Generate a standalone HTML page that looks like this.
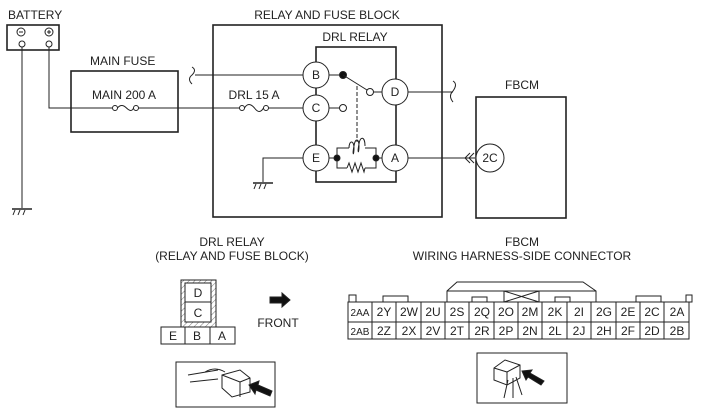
<!DOCTYPE html>
<html><head><meta charset="utf-8"><style>
body{margin:0;background:#fff}
svg{display:block}
text{font-family:"Liberation Sans",sans-serif;font-size:12px;fill:#222}
</style></head><body>
<svg width="704" height="417" viewBox="0 0 704 417" xmlns="http://www.w3.org/2000/svg">
<defs>
<pattern id="h" width="4" height="4" patternUnits="userSpaceOnUse" patternTransform="rotate(45)"><line x1="0" y1="0" x2="0" y2="4" stroke="#555" stroke-width="0.8"/></pattern>
</defs>
<g stroke="#222" fill="none" stroke-width="1">
<rect x="7" y="25" width="52" height="25" stroke-width="1.6"/>
<circle cx="21" cy="32" r="4"/><line x1="19" y1="32" x2="23" y2="32"/>
<circle cx="49" cy="32" r="4"/><line x1="47" y1="32" x2="51" y2="32"/><line x1="49" y1="30" x2="49" y2="34"/>
<circle cx="22" cy="44" r="3"/><circle cx="49" cy="44" r="3"/>
<line x1="22" y1="47" x2="22" y2="208"/>
<line x1="12" y1="209" x2="32" y2="209" stroke-width="1.6"/>
<line x1="15" y1="210" x2="13" y2="215"/><line x1="20" y1="210" x2="18" y2="215"/><line x1="25" y1="210" x2="23" y2="215"/>
<polyline points="49,47 49,108 112,108"/>
<rect x="71" y="71" width="107" height="61" stroke-width="1.6"/>
<circle cx="115" cy="108" r="2.5"/><circle cx="136" cy="108" r="2.5"/>
<path d="M117.5,108 q4,-5 9,0 q5,5 7,0"/>
<line x1="138.5" y1="108" x2="240" y2="108"/>
<circle cx="242" cy="108" r="2.5"/><circle cx="266" cy="108" r="2.5"/>
<path d="M244.5,108 q4,-7 10,0 q5,7 9,0"/>
<line x1="268.5" y1="108" x2="303" y2="108"/>
<rect x="213" y="25" width="229" height="192" stroke-width="1.6"/>
<rect x="316" y="47" width="80" height="135" stroke-width="1.6"/>
<line x1="195" y1="75" x2="303" y2="75"/>
<path d="M192,67 q5,3 0,8 q-5,4 0,9"/>
<circle cx="316" cy="75" r="13" fill="#fff"/>
<circle cx="316" cy="108" r="13" fill="#fff"/>
<circle cx="316" cy="158" r="13" fill="#fff"/>
<circle cx="395" cy="92" r="13" fill="#fff"/>
<circle cx="395" cy="158" r="13" fill="#fff"/>
<line x1="329" y1="75" x2="343" y2="75"/>
<circle cx="343" cy="75" r="3.5" fill="#111"/>
<line x1="343" y1="75" x2="367" y2="90"/>
<circle cx="370" cy="92" r="3.5" fill="#fff"/>
<line x1="373.5" y1="92" x2="382" y2="92"/>
<line x1="329" y1="108" x2="340" y2="108"/>
<circle cx="343" cy="108" r="3.5" fill="#fff"/>
<line x1="357" y1="86" x2="357" y2="142" stroke-dasharray="4,2"/>
<line x1="329" y1="158" x2="337" y2="158"/><line x1="376" y1="158" x2="382" y2="158"/>
<polyline points="337,158 337,148 349,148"/><polyline points="365,148 376,148 376,168 365,168"/><polyline points="337,158 337,168 347,168"/>
<path d="M349,148 c0,-8 5,-8 5,0 c0,8 -2,8 0,-2 c1,-8 5,-8 5,0 c0,8 -2,8 0,-2 c1,-8 6,-8 6,2"/>
<polyline points="347,168 349,163 352,172 355,163 358,172 361,163 364,172 365,168"/>
<circle cx="337" cy="158" r="3" fill="#111"/><circle cx="376" cy="158" r="3" fill="#111"/>
<polyline points="303,158 263,158 263,182"/>
<line x1="253" y1="183" x2="273" y2="183" stroke-width="1.6"/>
<line x1="256" y1="184" x2="254" y2="189"/><line x1="261" y1="184" x2="259" y2="189"/><line x1="266" y1="184" x2="264" y2="189"/>
<line x1="408" y1="92" x2="453" y2="92"/>
<path d="M453,81 q5,3 0,10 q-5,5 0,11"/>
<line x1="408" y1="158" x2="475" y2="158"/>
<polyline points="470,153 465,158 470,163"/><polyline points="474,153 469,158 474,163"/>
<rect x="476" y="97" width="90" height="121" stroke-width="1.6"/>
<circle cx="490" cy="158" r="14" fill="#fff"/>
<rect x="181" y="280" width="35" height="47" fill="url(#h)"/>
<rect x="185" y="283" width="26" height="19" fill="#fff"/>
<rect x="185" y="302" width="26" height="20" fill="#fff"/>
<rect x="161" y="327" width="74" height="17" fill="#fff"/>
<line x1="185" y1="327" x2="185" y2="344"/><line x1="210" y1="327" x2="210" y2="344"/>
<polygon points="270,297 282,297 282,293 290,300 282,307 282,303 270,303" fill="#111"/>
<rect x="176" y="362" width="99" height="45"/>
<polygon points="447,302 447,291 457,282 583,282 596,291 596,302"/>
<line x1="447" y1="291" x2="596" y2="291"/>
<rect x="472" y="297" width="15" height="5"/><rect x="555" y="297" width="15" height="5"/>
<rect x="504" y="291" width="35" height="11"/><line x1="504" y1="291" x2="539" y2="302"/><line x1="504" y1="302" x2="539" y2="291"/>
<rect x="349" y="295" width="7" height="7"/><rect x="383" y="296" width="25" height="6"/>
<rect x="636" y="296" width="25" height="6"/><rect x="686" y="295" width="6" height="7"/>
<rect x="348" y="302" width="341" height="37"/>
<line x1="348" y1="322" x2="689" y2="322"/>
<rect x="477" y="353" width="90" height="50"/>
</g>
<g stroke="#222" fill="none">
<path d="M188,375 l30,-5 M190,382 l28,-3 M205,372 q10,-6 20,0"/>
<polygon points="222,375 240,370 250,378 250,392 232,397 222,388" fill="#fff"/>
<line x1="222" y1="375" x2="240" y2="382"/><line x1="240" y1="382" x2="250" y2="378"/><line x1="240" y1="382" x2="240" y2="397"/>
<polygon points="249,385 259,381 258,385 272,391 270,396 256,390 255,394" fill="#111"/>
<polygon points="494,368 505,360 520,365 520,378 507,385 494,380" fill="#fff"/>
<line x1="494" y1="368" x2="507" y2="372"/><line x1="507" y1="372" x2="520" y2="365"/><line x1="507" y1="372" x2="507" y2="385"/>
<path d="M508,380 l-4,18 M513,378 l0,20 M516,377 l6,18"/>
<polygon points="522,371 532,370 530,373 544,381 541,385 528,377 526,380" fill="#111"/>
</g>
<text x="8" y="19">BATTERY</text>
<text x="90" y="65">MAIN FUSE</text>
<text x="124" y="99" text-anchor="middle">MAIN 200 A</text>
<text x="254" y="99" text-anchor="middle">DRL 15 A</text>
<text x="327" y="19" text-anchor="middle">RELAY AND FUSE BLOCK</text>
<text x="355" y="41" text-anchor="middle">DRL RELAY</text>
<text x="316" y="79" text-anchor="middle">B</text>
<text x="316" y="112" text-anchor="middle">C</text>
<text x="316" y="162" text-anchor="middle">E</text>
<text x="395" y="96" text-anchor="middle">D</text>
<text x="395" y="162" text-anchor="middle">A</text>
<text x="490" y="162" text-anchor="middle">2C</text>
<text x="522" y="89" text-anchor="middle">FBCM</text>
<text x="232" y="246" text-anchor="middle">DRL RELAY</text>
<text x="232" y="260" text-anchor="middle">(RELAY AND FUSE BLOCK)</text>
<text x="522" y="246" text-anchor="middle">FBCM</text>
<text x="522" y="260" text-anchor="middle">WIRING HARNESS-SIDE CONNECTOR</text>
<text x="198" y="297" text-anchor="middle">D</text>
<text x="198" y="317" text-anchor="middle">C</text>
<text x="173" y="340" text-anchor="middle">E</text>
<text x="197" y="340" text-anchor="middle">B</text>
<text x="222" y="340" text-anchor="middle">A</text>
<text x="278" y="327" text-anchor="middle">FRONT</text>
<g text-anchor="middle" style="font-size:11px">
<text x="360" y="316" style="font-size:10px">2AA</text><text x="384" y="316">2Y</text><text x="409" y="316">2W</text><text x="433" y="316">2U</text><text x="457" y="316">2S</text><text x="482" y="316">2Q</text><text x="506" y="316">2O</text><text x="530" y="316">2M</text><text x="555" y="316">2K</text><text x="579" y="316">2I</text><text x="604" y="316">2G</text><text x="628" y="316">2E</text><text x="652" y="316">2C</text><text x="677" y="316">2A</text>
<text x="360" y="335" style="font-size:10px">2AB</text><text x="384" y="335">2Z</text><text x="409" y="335">2X</text><text x="433" y="335">2V</text><text x="457" y="335">2T</text><text x="482" y="335">2R</text><text x="506" y="335">2P</text><text x="530" y="335">2N</text><text x="555" y="335">2L</text><text x="579" y="335">2J</text><text x="604" y="335">2H</text><text x="628" y="335">2F</text><text x="652" y="335">2D</text><text x="677" y="335">2B</text>
</g>
<g stroke="#222">
<line x1="372" y1="302" x2="372" y2="339"/><line x1="396" y1="302" x2="396" y2="339"/><line x1="421" y1="302" x2="421" y2="339"/><line x1="445" y1="302" x2="445" y2="339"/><line x1="469" y1="302" x2="469" y2="339"/><line x1="494" y1="302" x2="494" y2="339"/><line x1="518" y1="302" x2="518" y2="339"/><line x1="542" y1="302" x2="542" y2="339"/><line x1="567" y1="302" x2="567" y2="339"/><line x1="591" y1="302" x2="591" y2="339"/><line x1="616" y1="302" x2="616" y2="339"/><line x1="640" y1="302" x2="640" y2="339"/><line x1="664" y1="302" x2="664" y2="339"/>
</g>
</svg>
</body></html>
